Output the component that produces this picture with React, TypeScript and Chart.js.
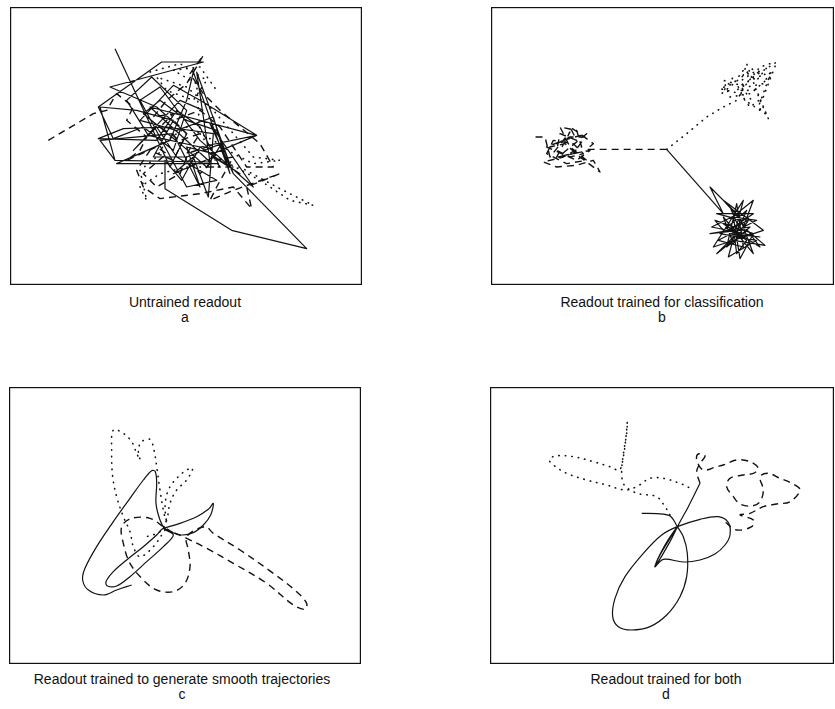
import React, { useEffect, useRef } from "react";
import { Chart, registerables } from "chart.js";

Chart.register(...registerables);

type P = [number, number];

// Panel a: untrained readout (state-space units)
const aSolid: P[] = [
  [345,145],[510,500],[560,400],[470,320],[330,260],[610,185],[485,185],[295,320],[340,415],[430,380],
  [520,450],[560,330],[455,230],[380,300],[445,405],[600,440],[770,405],[600,300],[520,255],[420,360],
  [530,390],[640,350],[690,520],[580,215],[560,300],[510,420],[350,490],[655,490],[600,380],[530,330],
  [470,420],[295,415],[370,385],[500,380],[640,400],[625,590],[580,470],[520,520],[640,470],[720,520],
  [600,440],[545,540],[495,480],[495,565],[695,690],[920,745],[700,520],[650,390],[560,360],[480,300],
  [430,340],[540,430],[620,500],[665,430],[560,470],[460,470],[520,360],[410,330],[300,320],[345,480],
  [630,485],[450,320],[770,405],[640,460],[560,440],[600,560],[520,400],[300,420],[345,480],[630,485],
  [590,215],[700,520],[630,370],[760,560],[600,420],[480,260],[420,300],[560,560],[650,540],[530,470],
  [470,380],[400,450],[540,300],[610,330]
];
const aDashed: P[] = [
  [145,420],[280,340],[320,330],[350,280],[400,320],[380,360],[440,410],[420,450],[380,480],[470,440],
  [500,460],[430,520],[470,560],[540,520],[560,470],[600,520],[640,480],[700,470],[650,560],[630,600],
  [700,570],[840,520],[740,560],[755,625],[700,560],[600,580],[480,595],[430,560],[410,510],[450,450],
  [520,480],[560,400],[520,360],[600,330],[660,380],[700,440],[740,500],[820,500],[780,430],[720,380],
  [660,330],[610,280],[570,220],[610,165],[560,250],[500,300],[460,350],[520,340],[480,380],[540,420],
  [600,400],[560,460],[620,440],[660,500],[600,500]
];
const aDotted: P[] = [
  [450,215],[540,190],[620,240],[580,300],[500,270],[470,230],[560,260],[640,330],[700,400],[760,470],
  [840,480],[760,490],[700,460],[640,420],[560,380],[500,420],[470,470],[420,510],[440,600],[420,560],
  [480,520],[560,500],[720,500],[830,560],[940,615],[870,600],[780,540],[650,470],[600,400],[590,250],
  [520,210],[600,200],[650,270]
];

// Panel b: readout trained for classification
const bDashed: P[] = [
  [590,447],[350,447],[370,430],[330,400],[300,380],[320,420],[270,400],[260,450],[300,470],[340,460],
  [310,430],[250,420],[230,460],[290,490],[350,480],[300,440],[270,380],[320,390],[335,440],[280,470],
  [220,485],[260,500],[320,495],[370,480],[390,515],[330,470],[285,430],[240,440],[300,410],[345,410],
  [310,460],[265,470],[350,400],[280,420],[230,440],[320,480],[360,450],[260,470],[300,395],[240,470],
  [225,410],[190,410]
];
const bSolid: P[] = [
  [590,447],[760,640],[720,560],[800,640],[850,600],[820,680],[885,735],[790,720],[740,760],[800,700],
  [830,630],[760,690],[735,660],[850,700],[810,775],[790,650],[860,660],[745,720],[820,740],[800,610],
  [770,740],[840,680],[720,700],[810,690],[780,620],[870,740],[760,670],[830,720],[800,760],[790,680],
  [850,640],[740,640],[815,660],[760,600],[880,690],[730,740],[820,600],[775,770],[860,720],[750,700],
  [835,660],[790,730],[760,650],[850,760],[805,640],[725,680],[870,710],[780,700],[820,710],[795,705]
];
const bDotted: P[] = [
  [590,447],[650,400],[710,350],[760,320],[800,300],[830,250],[870,200],[900,190],[860,240],[820,210],
  [790,250],[750,265],[810,280],[840,320],[880,290],[920,185],[850,230],[800,270],[860,270],[895,355],
  [870,300],[830,190],[815,240],[860,210],[900,230],[840,280],[780,290],[760,240],[830,260],[880,250],
  [905,210],[865,320],[885,340],[825,300],[790,230],[755,280],[845,205],[875,225],[810,255],[845,300]
];

// Panel c: readout trained to generate smooth trajectories
const cSolid: P[] = [
  [490,535],[540,520],[590,500],[625,478],[640,460],[632,495],[610,525],[580,548],[545,555],[510,545],
  [490,535],[470,555],[430,590],[380,630],[340,665],[318,695],[322,708],[350,708],[390,680],[440,635],
  [490,590],[520,555],[495,538],[480,510],[468,460],[470,400],[466,365],[455,362],[430,390],[390,445],
  [340,515],[290,590],[255,655],[248,690],[265,720],[310,735],[350,720],[395,705]
];
const cDashed: P[] = [
  [490,535],[560,565],[620,595],[700,640],[800,700],[880,765],[915,778],[920,760],[890,725],[820,670],
  [720,600],[640,550],[615,530],[560,560],[565,600],[570,650],[555,700],[520,725],[470,720],[430,690],
  [390,640],[370,580],[365,530],[395,505],[450,505],[490,530],[530,555]
];
const cDotted: P[] = [
  [495,540],[460,590],[420,620],[400,590],[390,545],[370,500],[350,440],[338,380],[335,300],[340,240],
  [370,250],[395,275],[410,310],[420,330],[415,300],[425,275],[450,268],[462,300],[470,350],[480,420],
  [490,480],[500,520],[495,470],[505,420],[530,385],[560,360],[578,355],[560,390],[530,420],[510,460],
  [500,510],[480,545],[440,560]
];

// Panel d: readout trained for both
const dSolid: P[] = [
  [515,490],[560,491],[600,498],[622,530],[640,560],[652,610],[650,680],[630,740],[590,795],[540,830],
  [485,840],[445,830],[428,800],[435,745],[465,680],[520,610],[575,555],[622,530],[690,508],[745,500],
  [775,518],[780,555],[765,585],[735,612],[690,630],[640,636],[580,628],[555,650],[585,585],[622,530],
  [570,615],[555,650],[600,575],[625,525],[655,470],[690,400]
];
const dDashed: P[] = [
  [690,400],[680,365],[690,340],[705,318],[685,312],[680,330],[700,360],[740,350],[760,345],[800,330],
  [840,335],[865,355],[850,370],[820,375],[780,385],[770,410],[790,440],[810,462],[845,468],[870,455],
  [880,420],[870,380],[895,370],[930,385],[965,400],[990,420],[960,455],[920,462],[880,470],[840,490],
  [810,495],[850,510],[845,530],[800,540],[770,520],[760,505]
];
const dDotted: P[] = [
  [600,495],[585,470],[560,440],[510,432],[480,420],[460,400],[455,360],[462,300],[470,250],[472,215],
  [468,260],[460,320],[448,360],[420,350],[370,335],[310,320],[255,318],[238,330],[250,345],[290,370],
  [350,390],[410,405],[465,420],[500,410],[540,385],[580,385],[630,400],[662,415]
];

const captions = [
  ["Untrained readout", "a"],
  ["Readout trained for classification", "b"],
  ["Readout trained to generate smooth trajectories", "c"],
  ["Readout trained for both", "d"],
];

const INK = "#121212";

type Series = { pts: P[]; kind: "solid" | "dashed" | "dotted" };

const framePlugin = {
  id: "frame",
  afterDraw(chart: any) {
    const { ctx, chartArea } = chart;
    const { left, top, width, height } = chartArea;
    ctx.save();
    ctx.strokeStyle = INK;
    ctx.lineWidth = 1.2;
    ctx.setLineDash([]);
    ctx.strokeRect(left + 0.6, top + 0.6, width - 1.2, height - 1.2);
    ctx.restore();
  },
};

function styleFor(kind: Series["kind"]) {
  if (kind === "dashed") return { borderWidth: 1.4, borderDash: [7, 5], borderCapStyle: "butt" };
  if (kind === "dotted") return { borderWidth: 1.6, borderDash: [0.5, 6], borderCapStyle: "round" };
  return { borderWidth: 1.2, borderDash: [], borderCapStyle: "butt" };
}

function Panel(props: {
  left: number; top: number; w: number; h: number;
  xr: [number, number]; yr: [number, number];
  series: Series[]; smooth: number;
}) {
  const ref = useRef<HTMLCanvasElement | null>(null);
  useEffect(() => {
    if (!ref.current) return;
    const chart = new Chart(ref.current, {
      type: "scatter",
      data: {
        datasets: props.series.map((s) => ({
          data: s.pts.map(([x, y]) => ({ x, y })),
          showLine: true,
          borderColor: INK,
          backgroundColor: INK,
          pointRadius: 0,
          pointHoverRadius: 0,
          fill: false,
          tension: props.smooth,
          borderJoinStyle: "round",
          ...styleFor(s.kind),
        })) as any,
      },
      options: {
        animation: false,
        responsive: false,
        maintainAspectRatio: false,
        events: [],
        layout: { padding: 0 },
        plugins: { legend: { display: false }, tooltip: { enabled: false }, title: { display: false } },
        scales: {
          x: { type: "linear", display: false, min: props.xr[0], max: props.xr[1] },
          y: { type: "linear", display: false, min: props.yr[0], max: props.yr[1], reverse: true },
        },
      },
      plugins: [framePlugin],
    });
    return () => chart.destroy();
  }, []);
  return (
    <canvas
      ref={ref}
      width={props.w}
      height={props.h}
      style={{ position: "absolute", left: props.left, top: props.top, width: props.w, height: props.h }}
    />
  );
}

function Caption(props: { cx: number; y: number; lines: string[] }) {
  return (
    <div
      style={{
        position: "absolute",
        left: props.cx - 200,
        top: props.y,
        width: 400,
        textAlign: "center",
        fontFamily: "'Liberation Sans', Arial, Helvetica, sans-serif",
        fontSize: 14,
        lineHeight: "15px",
        color: "#111",
      }}
    >
      {props.lines.map((l, i) => (
        <div key={i}>{l}</div>
      ))}
    </div>
  );
}

export default function App() {
  return (
    <div style={{ position: "fixed", left: 0, top: 0, width: 835, height: 709, background: "#fff", overflow: "hidden" }}>
      <Panel left={10} top={7} w={352} h={278} xr={[30, 1086]} yr={[20, 854]} smooth={0}
        series={[{ pts: aDotted, kind: "dotted" }, { pts: aDashed, kind: "dashed" }, { pts: aSolid, kind: "solid" }]} />
      <Panel left={491} top={7} w={343} h={278} xr={[63, 1092]} yr={[20, 854]} smooth={0}
        series={[{ pts: bDotted, kind: "dotted" }, { pts: bDashed, kind: "dashed" }, { pts: bSolid, kind: "solid" }]} />
      <Panel left={9} top={387} w={352} h={277} xr={[27, 1083]} yr={[111, 942]} smooth={0.35}
        series={[{ pts: cDotted, kind: "dotted" }, { pts: cDashed, kind: "dashed" }, { pts: cSolid, kind: "solid" }]} />
      <Panel left={490} top={387} w={344} h={277} xr={[60, 1092]} yr={[111, 942]} smooth={0.35}
        series={[{ pts: dDotted, kind: "dotted" }, { pts: dDashed, kind: "dashed" }, { pts: dSolid, kind: "solid" }]} />
      <Caption cx={185} y={295} lines={captions[0]} />
      <Caption cx={662} y={295} lines={captions[1]} />
      <Caption cx={182} y={672} lines={captions[2]} />
      <Caption cx={666} y={672} lines={captions[3]} />
    </div>
  );
}
